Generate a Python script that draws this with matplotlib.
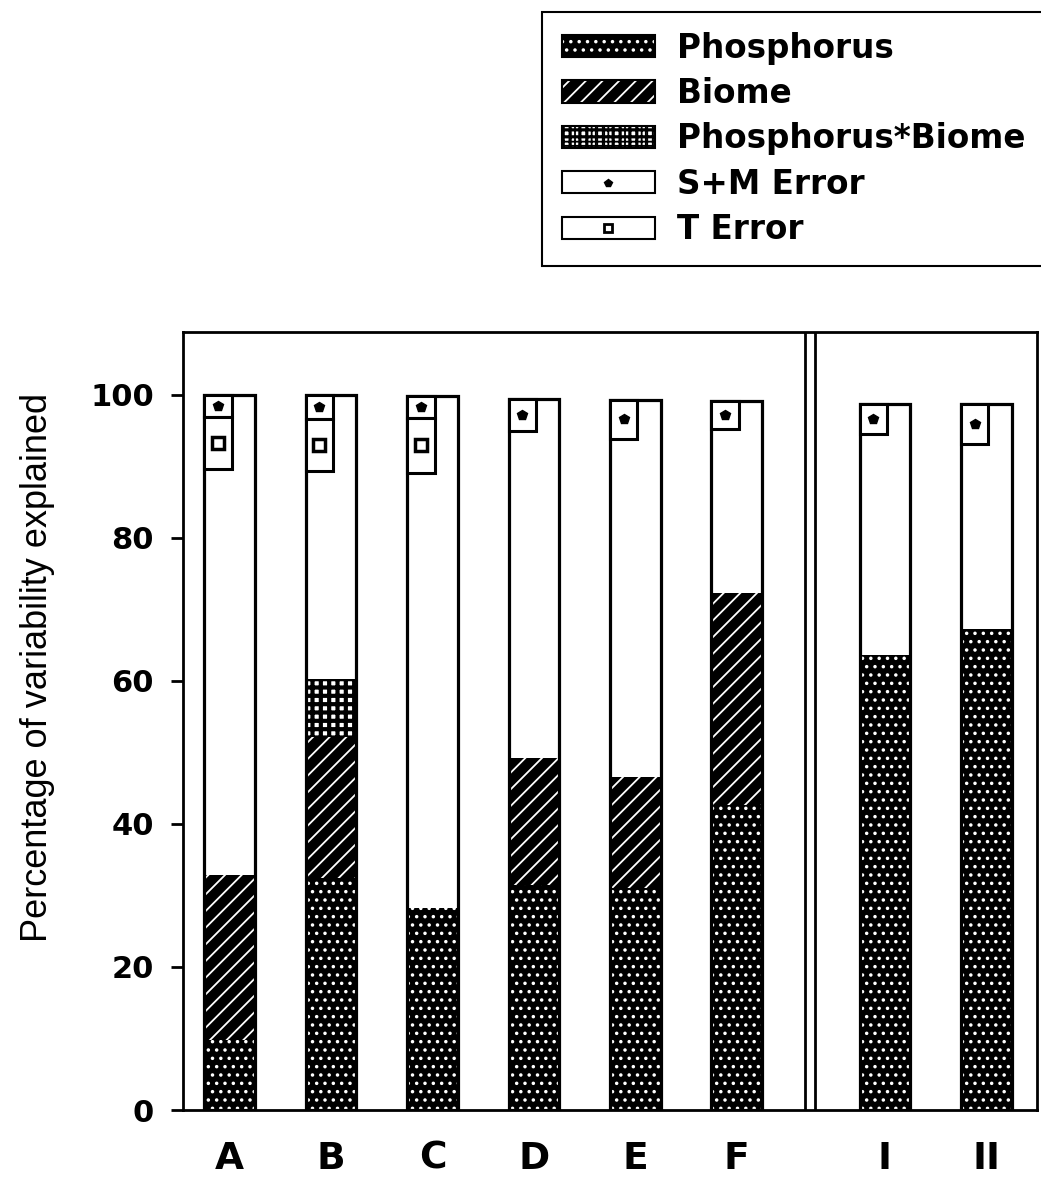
import numpy as np
import matplotlib.pyplot as plt
from matplotlib.patches import Patch
from matplotlib.lines import Line2D
from matplotlib.legend_handler import HandlerTuple

plt.rcParams['hatch.linewidth'] = 1.3

# data
groups = ['A', 'B', 'C', 'D', 'E', 'F', 'I', 'II']
xpos = np.array([0, 1, 2, 3, 4, 5, 6.46, 7.46])
phosphorus = np.array([9.8, 32.4, 28.3, 31.5, 31.0, 42.7, 63.6, 67.3])
biome = np.array([23.0, 19.8, 0, 17.7, 15.6, 29.6, 0, 0])
phos_biome = np.array([0, 8.1, 0, 0, 0, 0, 0, 0])
total = np.array([100, 100, 99.8, 99.5, 99.3, 99.2, 98.8, 98.7])
sm_error = np.array([3.1, 3.4, 3.0, 4.5, 5.4, 3.9, 4.3, 5.5])
t_error = np.array([7.3, 7.2, 7.7, 0, 0, 0, 0, 0])

bw = 0.5     # bar width
ew = 0.27    # error box width


def thick_hatch(patches, lw):
    # per-patch hatch width where the installed matplotlib supports it
    for p in patches:
        if hasattr(p, 'set_hatch_linewidth'):
            p.set_hatch_linewidth(lw)


fig = plt.figure(figsize=(10.41, 11.82), dpi=100)
ax = fig.add_axes([183/1041, 72/1182, (1037-183)/1041, (1110-332)/1182])

# white base bar up to total
ax.bar(xpos, total, width=bw, color='white', edgecolor='none', zorder=1)

# phosphorus - black with white dots
ax.bar(xpos, phosphorus, width=bw, facecolor='black', edgecolor='white',
       hatch='..', linewidth=0, zorder=2)
# biome - black with white diagonal lines
m = biome > 0
ax.bar(xpos[m], biome[m], bottom=phosphorus[m], width=bw, facecolor='black',
       edgecolor='white', hatch='//', linewidth=0, zorder=2)
# phosphorus*biome - grid
m = phos_biome > 0
pb = ax.bar(xpos[m], phos_biome[m], bottom=(phosphorus + biome)[m], width=bw,
            facecolor='white', edgecolor='black', hatch='++', linewidth=0, zorder=2)
thick_hatch(pb, 3.0)

# outline of whole bar
ax.bar(xpos, total, width=bw, fill=False, edgecolor='black', linewidth=2.3, zorder=3)

# error boxes at top-left of each bar
left = xpos - bw / 2
ax.bar(left, sm_error, bottom=total - sm_error, width=ew, align='edge',
       facecolor='white', edgecolor='black', linewidth=2.2, zorder=4)
ax.plot(left + ew / 2, total - sm_error / 2, ls='none', marker='p',
        color='black', ms=7, zorder=5)
m = t_error > 0
ax.bar(left[m], t_error[m], bottom=(total - sm_error - t_error)[m], width=ew,
       align='edge', facecolor='white', edgecolor='black', linewidth=2.2, zorder=4)
ax.plot((left + ew / 2)[m], (total - sm_error - t_error / 2)[m], ls='none',
        marker='s', mfc='white', mec='black', mew=2.5, ms=8, zorder=5)

# double divider between groups
ax.axvline(5.67, color='black', lw=2)
ax.axvline(5.77, color='black', lw=2)

ax.set_xlim(-0.46, 7.96)
ax.set_ylim(0, 108.8)
ax.set_yticks([0, 20, 40, 60, 80, 100])
ax.set_xticks(xpos)
ax.set_xticklabels(groups)
for s in ax.spines.values():
    s.set_linewidth(2)
ax.tick_params(axis='y', direction='out', length=9, width=2, pad=12,
               labelsize=22)
ax.tick_params(axis='x', length=0, pad=22, labelsize=27)
for lab in ax.get_yticklabels() + ax.get_xticklabels():
    lab.set_fontfamily('DejaVu Sans')
    lab.set_fontweight('bold')

fig.text(38/1041, 1 - 667/1182, 'Percentage of variability explained',
         rotation=90, ha='center', va='center', fontsize=26,
         family='Liberation Sans')

# legend
handles = [
    (Patch(facecolor='black', edgecolor='white', hatch='..', lw=0),
     Patch(fill=False, edgecolor='black', lw=1.5)),
    (Patch(facecolor='black', edgecolor='white', hatch='//', lw=0),
     Patch(fill=False, edgecolor='black', lw=1.5)),
    (Patch(facecolor='white', edgecolor='black', hatch='+++', lw=0),
     Patch(facecolor='none', edgecolor='black', hatch='++', lw=1.5)),
    (Patch(facecolor='white', edgecolor='black', lw=1.5),
     Line2D([], [], ls='none', marker='p', color='black', ms=6)),
    (Patch(facecolor='white', edgecolor='black', lw=1.5),
     Line2D([], [], ls='none', marker='s', mfc='white', mec='black', mew=2, ms=6)),
]
labels = ['Phosphorus', 'Biome', 'Phosphorus*Biome', 'S+M Error', 'T Error']
leg = fig.legend(handles, labels, loc='upper left',
                 bbox_to_anchor=(542/1041, 1 - 12/1182, 520/1041, 0.0),
                 mode='expand',
                 handler_map={tuple: HandlerTuple(ndivide=1)},
                 prop={'family': 'DejaVu Sans', 'weight': 'bold', 'size': 23.5},
                 handlelength=2.85, handleheight=0.67, handletextpad=0.7,
                 labelspacing=0.38, borderpad=0.6, borderaxespad=0,
                 fancybox=False, framealpha=1, edgecolor='black')
leg.get_frame().set_linewidth(1.5)

plt.savefig('out.png', dpi=100)
